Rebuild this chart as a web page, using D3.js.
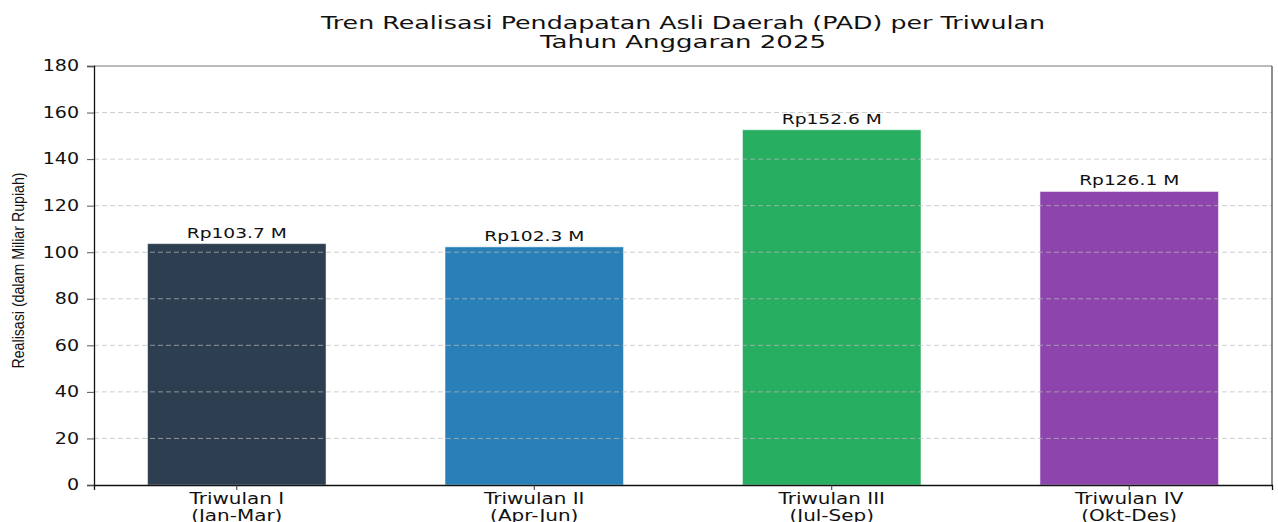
<!DOCTYPE html>
<html>
<head>
<meta charset="utf-8">
<script src="https://cdn.jsdelivr.net/npm/d3@7"></script>
<style>
  html, body { margin: 0; padding: 0; background: #fff; }
  svg { display: block; }
  text { font-family: "DejaVu Sans", sans-serif; fill: #111; }
</style>
</head>
<body>
<svg id="chart" width="1278" height="522"></svg>
<script>
// ---- data ----
const categories = ["Triwulan I", "Triwulan II", "Triwulan III", "Triwulan IV"];
const periods = ["(Jan-Mar)", "(Apr-Jun)", "(Jul-Sep)", "(Okt-Des)"];
const values = [103.7, 102.3, 152.6, 126.1];
const valueLabels = ["Rp103.7 M", "Rp102.3 M", "Rp152.6 M", "Rp126.1 M"];
const colors = ["#2c3e50", "#2980b9", "#27ae60", "#8e44ad"];
const yTicks = [0, 20, 40, 60, 80, 100, 120, 140, 160, 180];
const titleLines = ["Tren Realisasi Pendapatan Asli Daerah (PAD) per Triwulan", "Tahun Anggaran 2025"];
const yLabel = "Realisasi (dalam Miliar Rupiah)";

// ---- layout ----
const margin = { left: 94, right: 6, top: 66, bottom: 37 };
const W = 1278, H = 522;
const svg = d3.select("#chart");
const STRETCH = 1.27;

function stretch(sel, factor) {
  sel.each(function () {
    const w = this.getComputedTextLength();
    d3.select(this).attr("textLength", w * factor).attr("lengthAdjust", "spacingAndGlyphs");
  });
}

const x = d3.scaleBand()
  .domain(categories)
  .range([margin.left, W - margin.right])
  .paddingInner(0.4)
  .paddingOuter(0.18);

const y = d3.scaleLinear()
  .domain([0, 180])
  .range([H - margin.bottom, margin.top]);

const g = svg.append("g");

// bars
g.selectAll("rect.bar")
  .data(values)
  .join("rect")
  .attr("class", "bar")
  .attr("x", (d, i) => x(categories[i]))
  .attr("width", x.bandwidth())
  .attr("y", d => y(d))
  .attr("height", d => y(0) - y(d))
  .attr("fill", (d, i) => colors[i])
  .attr("stroke", "#ffffff")
  .attr("stroke-opacity", 0.5)
  .attr("stroke-width", 1);

// grid (drawn on top of bars)
g.selectAll("line.grid")
  .data(yTicks.filter(t => t > 0 && t < 180))
  .join("line")
  .attr("class", "grid")
  .attr("x1", margin.left)
  .attr("x2", W - margin.right)
  .attr("y1", d => y(d))
  .attr("y2", d => y(d))
  .attr("stroke", "#bbbbbb")
  .attr("stroke-opacity", 0.7)
  .attr("stroke-width", 1)
  .attr("stroke-dasharray", "5,3");

// spines
svg.append("line").attr("x1", margin.left).attr("x2", W - margin.right)
  .attr("y1", margin.top).attr("y2", margin.top).attr("stroke", "#777").attr("stroke-width", 1.2);
svg.append("line").attr("x1", W - margin.right).attr("x2", W - margin.right)
  .attr("y1", margin.top).attr("y2", H - margin.bottom).attr("stroke", "#444").attr("stroke-width", 1.2);

// y axis
const yAxis = svg.append("g")
  .attr("transform", `translate(${margin.left},0)`)
  .call(d3.axisLeft(y).tickValues(yTicks).tickSize(7).tickPadding(8));
yAxis.select(".domain").attr("stroke", "#111").attr("stroke-width", 1.3);
yAxis.selectAll(".tick line").attr("stroke", "#555");
yAxis.selectAll(".tick text")
  .attr("fill", "#111")
  .style("font-family", "DejaVu Sans")
  .style("font-size", "15px")
  .call(stretch, STRETCH);

// x axis
const xAxis = svg.append("g")
  .attr("transform", `translate(0,${H - margin.bottom})`)
  .call(d3.axisBottom(x).tickSize(5).tickFormat(""));
xAxis.select(".domain").attr("stroke", "#111").attr("stroke-width", 1.3);
xAxis.selectAll(".tick line").attr("stroke", "#333");

// category labels
const catG = svg.append("g");
categories.forEach((c, i) => {
  const cx = x(c) + x.bandwidth() / 2;
  catG.append("text")
    .attr("x", cx).attr("y", H - margin.bottom + 19)
    .attr("text-anchor", "middle")
    .style("font-size", "15px")
    .text(c)
    .call(stretch, 1.33);
  catG.append("text")
    .attr("x", cx).attr("y", H - margin.bottom + 36)
    .attr("text-anchor", "middle")
    .style("font-size", "15px")
    .text(periods[i])
    .call(stretch, 1.33);
});

// value labels
svg.append("g").selectAll("text")
  .data(values)
  .join("text")
  .attr("x", (d, i) => x(categories[i]) + x.bandwidth() / 2)
  .attr("y", d => y(d) - 6)
  .attr("text-anchor", "middle")
  .style("font-size", "14px")
  .text((d, i) => valueLabels[i])
  .call(stretch, 1.33);

// y label
svg.append("text")
  .attr("transform", `translate(24,${(margin.top + H - margin.bottom) / 2 - 5}) rotate(-90)`)
  .attr("text-anchor", "middle")
  .style("font-family", "'Liberation Sans Narrow', 'Liberation Sans', sans-serif")
  .style("font-size", "16px")
  .attr("textLength", 196)
  .attr("lengthAdjust", "spacingAndGlyphs")
  .text(yLabel);

// title
const tcx = (margin.left + W - margin.right) / 2;
svg.append("text")
  .attr("x", tcx).attr("y", 29)
  .attr("text-anchor", "middle")
  .style("font-size", "18px")
  .attr("textLength", 724)
  .attr("lengthAdjust", "spacingAndGlyphs")
  .text(titleLines[0]);
svg.append("text")
  .attr("x", tcx).attr("y", 48)
  .attr("text-anchor", "middle")
  .style("font-size", "18px")
  .attr("textLength", 286)
  .attr("lengthAdjust", "spacingAndGlyphs")
  .text(titleLines[1]);
</script>
</body>
</html>
